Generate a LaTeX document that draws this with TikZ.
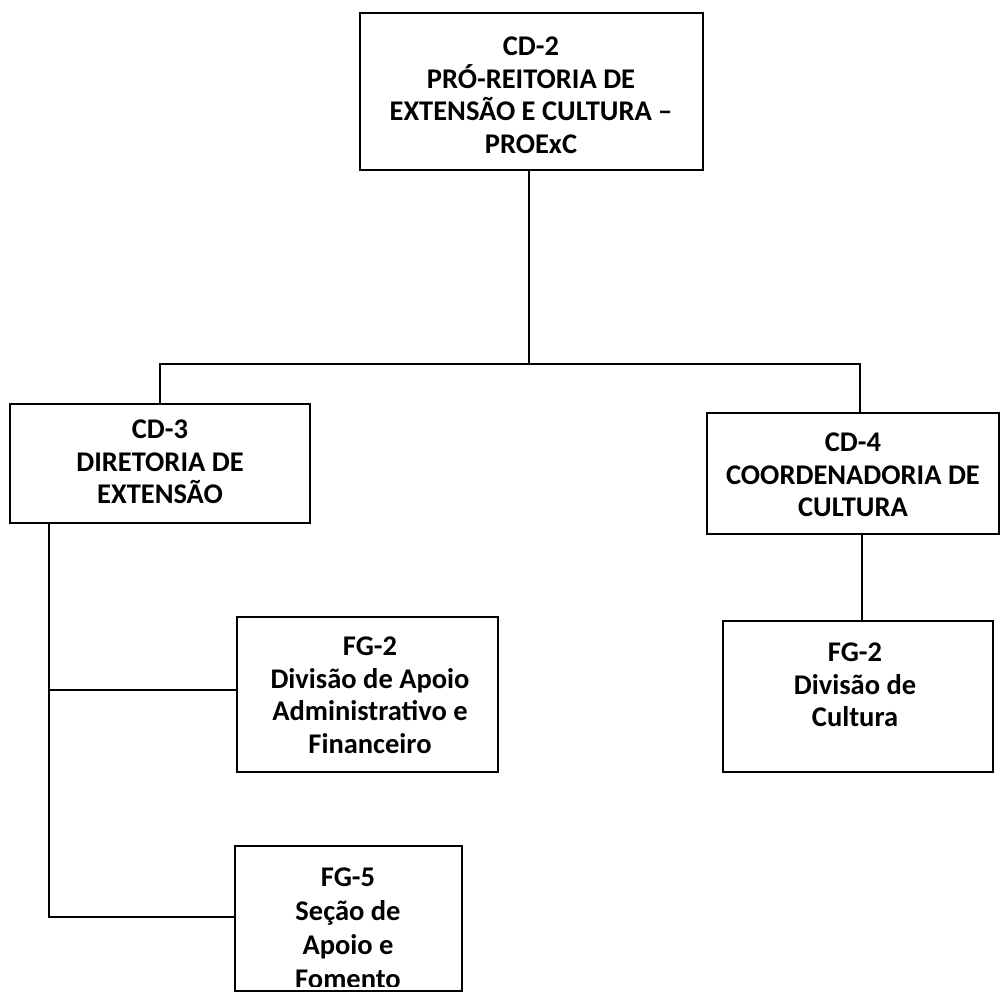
\documentclass[tikz,border=0pt]{standalone}
\usepackage{fontspec}
\setmainfont{Carlito}
\begin{document}
\begin{tikzpicture}[x=1pt,y=-1pt,
  box/.style={draw=black,line width=1.7pt,rectangle,inner sep=0pt,outer sep=0pt},
  lbl/.style={align=center,inner sep=0pt,anchor=north,font=\fontsize{28.5}{32.5}\selectfont\bfseries},
  conn/.style={draw=black,line width=1.7pt}]
\useasboundingbox[fill=white] (0,0) rectangle (1000,993);
% boxes
\node[box,minimum width=343pt,minimum height=157pt] (cd2) at (531.5,91.5) {};
\node[box,minimum width=300pt,minimum height=119pt] (cd3) at (160,463.5) {};
\node[box,minimum width=292pt,minimum height=121pt] (cd4) at (853,473.5) {};
\node[box,minimum width=261pt,minimum height=155pt] (fg2a) at (367.5,694.5) {};
\node[box,minimum width=270pt,minimum height=151pt] (fg2b) at (858,696.5) {};
\node[box,minimum width=227pt,minimum height=145pt] (fg5) at (348.5,918.5) {};
% labels
\node[lbl] (cd2t) at (531,37) {CD-2\\PRÓ-REITORIA DE\\EXTENSÃO E CULTURA –\\PROExC};
\node[lbl] (cd3t) at (160,420) {CD-3\\DIRETORIA DE\\EXTENSÃO};
\node[lbl] (cd4t) at (853,433) {CD-4\\COORDENADORIA DE\\CULTURA};
\node[lbl] (fg2at) at (370,637) {FG-2\\Divisão de Apoio\\Administrativo e\\Financeiro};
\node[lbl] (fg2bt) at (855,643) {FG-2\\Divisão de\\Cultura};
\begin{scope}
  \clip (fg5.north west) rectangle (fg5.east |- 0,986);
  \node[lbl,font=\fontsize{28.5}{34}\selectfont\bfseries] (fg5t) at (348,868) {FG-5\\Seção de\\Apoio e\\Fomento};
\end{scope}
% connectors
\coordinate (j0) at (529,364);
\coordinate (bl) at (160,364);
\coordinate (br) at (860,364);
\draw[conn] (cd2.south -| j0) -- (j0);
\draw[conn] (cd3.north -| bl) -- (bl) -- (br) -- (cd4.north -| br);
\coordinate (c4) at (862,580);
\draw[conn] (cd4.south -| c4) -- (fg2b.north -| c4);
\coordinate (t1) at (49,690);
\coordinate (t2) at (49,917);
\draw[conn] (cd3.south -| t1) -- (t2) -- (fg5.west |- t2);
\draw[conn] (t1) -- (fg2a.west |- t1);
\end{tikzpicture}
\end{document}
